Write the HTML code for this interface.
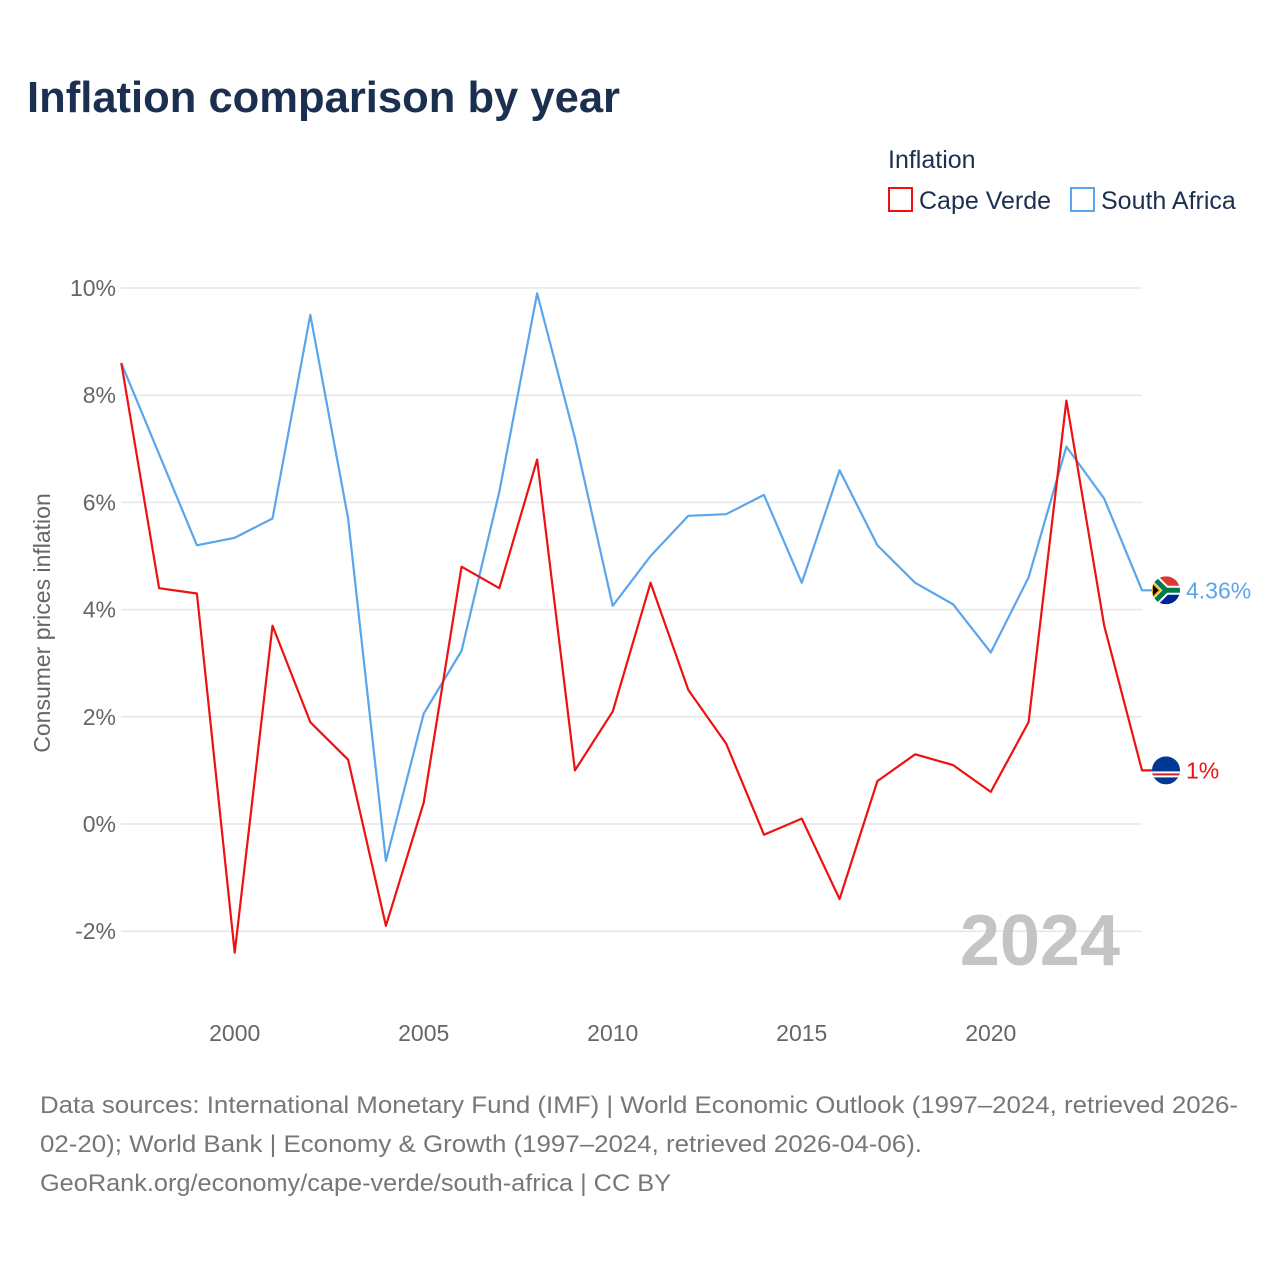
<!DOCTYPE html>
<html><head><meta charset="utf-8"><style>
body{margin:0;background:#fff;font-family:"Liberation Sans",sans-serif;}
#wrap{position:relative;width:1280px;height:1280px;overflow:hidden;}
</style></head><body>
<div id="wrap">
<svg id="chart" width="1280" height="1280">
<defs>
<clipPath id="cSA"><circle cx="1166" cy="590" r="14"/></clipPath>
<clipPath id="cCV"><circle cx="1166" cy="770" r="14"/></clipPath>
</defs>
<text x="27" y="112" font-size="44" font-weight="bold" fill="#1b3050" textLength="593" lengthAdjust="spacingAndGlyphs">Inflation comparison by year</text>
<text x="888" y="168" font-size="25" fill="#1b3050">Inflation</text>
<g>
<rect x="889" y="188" width="23" height="23" fill="none" stroke="#ee1111" stroke-width="2"/>
<text x="919" y="209" font-size="25" fill="#1b3050">Cape Verde</text></g>
<g>
<rect x="1071" y="188" width="23" height="23" fill="none" stroke="#5aa5ec" stroke-width="2"/>
<text x="1101" y="209" font-size="25" fill="#1b3050">South Africa</text></g>
<text transform="translate(50,623) rotate(-90)" text-anchor="middle" font-size="23" fill="#666">Consumer prices inflation</text>
<g id="grid"></g><g id="xt"></g>
<text x="1120" y="965" text-anchor="end" font-size="72" font-weight="bold" fill="#c4c4c4">2024</text>
<g id="series"></g>
<text x="40" y="1113" font-size="24" fill="#777" textLength="1198" lengthAdjust="spacingAndGlyphs">Data sources: International Monetary Fund (IMF) | World Economic Outlook (1997–2024, retrieved 2026-</text>
<text x="40" y="1152" font-size="24" fill="#777" textLength="882" lengthAdjust="spacingAndGlyphs">02-20); World Bank | Economy &amp; Growth (1997–2024, retrieved 2026-04-06).</text>
<text x="40" y="1191" font-size="24" fill="#777" textLength="631" lengthAdjust="spacingAndGlyphs">GeoRank.org/economy/cape-verde/south-africa | CC BY</text>
</svg></div>
<script>
const years=[1997,1998,1999,2000,2001,2002,2003,2004,2005,2006,2007,2008,2009,2010,2011,2012,2013,2014,2015,2016,2017,2018,2019,2020,2021,2022,2023,2024];
const capeVerde=[8.6,4.4,4.3,-2.4,3.7,1.9,1.2,-1.9,0.4,4.8,4.4,6.8,1.0,2.1,4.5,2.5,1.5,-0.2,0.1,-1.4,0.8,1.3,1.1,0.6,1.9,7.9,3.7,1.0];
const southAfrica=[8.6,6.9,5.2,5.34,5.7,9.5,5.7,-0.69,2.06,3.23,6.2,9.9,7.2,4.07,5.0,5.75,5.78,6.14,4.5,6.6,5.2,4.5,4.1,3.2,4.6,7.04,6.07,4.36];
const yTicks=[-2,0,2,4,6,8,10];
const xTicks=[2000,2005,2010,2015,2020];
const NS="http://www.w3.org/2000/svg";
const x=v=>121.3+(v-1997)*(1142-121.3)/27;
const y=v=>824-v*53.6;
function mk(tag,attrs,parent){const e=document.createElementNS(NS,tag);for(const k in attrs)e.setAttribute(k,attrs[k]);parent.appendChild(e);return e;}
const grid=document.getElementById('grid');
yTicks.forEach(t=>{
 const l=mk('line',{x1:121,x2:1142,y1:y(t),y2:y(t),stroke:'#e6e6e6','stroke-width':1.5},grid);
 
 
 const tx=mk('text',{x:116,y:y(t)+8,'text-anchor':'end','font-size':23,fill:'#666'},grid);
 tx.textContent=t+'%';
 
 
});
const xt=document.getElementById('xt');
xTicks.forEach(t=>{
 const tx=mk('text',{x:x(t),y:1041,'text-anchor':'middle','font-size':23,fill:'#666'},xt);
 tx.textContent=t;
 
 
});
const sg=document.getElementById('series');
function draw(vals,color,name,label,flagId){
 const pts=vals.map((v,i)=>x(years[i])+','+y(v)).join(' ');
 const last=vals[vals.length-1];
 const cy=y(last);
 const p=mk('polyline',{points:pts+' '+(x(2024)+10)+','+cy,fill:'none',stroke:color,'stroke-width':2.2,'stroke-linejoin':'round'},sg);
 
 
 document.getElementById(flagId).firstElementChild.setAttribute('cy',cy);
 const g=mk('g',{'clip-path':'url(#'+flagId+')'},sg);
 
 
 if(name==='south-africa'){
  mk('rect',{x:1152,y:cy-14,width:28,height:14,fill:'#de3831'},g);
  mk('rect',{x:1152,y:cy,width:28,height:14,fill:'#002395'},g);
  mk('path',{d:`M1152 ${cy-14} L1166 ${cy} L1152 ${cy+14} M1166 ${cy} L1180 ${cy}`,stroke:'#fff','stroke-width':9,fill:'none'},g);
  mk('path',{d:`M1152 ${cy-14} L1166 ${cy} L1152 ${cy+14} M1166 ${cy} L1180 ${cy}`,stroke:'#007a4d','stroke-width':5,fill:'none'},g);
  mk('path',{d:`M1152 ${cy-8} L1160 ${cy} L1152 ${cy+8} Z`,fill:'#000',stroke:'#ffb612','stroke-width':2},g);
 } else {
  mk('rect',{x:1152,y:cy-14,width:28,height:28,fill:'#003893'},g);
  mk('rect',{x:1152,y:cy+1,width:28,height:6,fill:'#fff'},g);
  mk('rect',{x:1152,y:cy+3,width:28,height:2,fill:'#cf2027'},g);
 }
 const t=mk('text',{x:1186,y:cy+8,'font-size':23,fill:color},sg);
 t.textContent=label;
 
 
}
draw(southAfrica,'#5aa5ec','south-africa',southAfrica[southAfrica.length-1]+'%','cSA');
draw(capeVerde,'#ee1111','cape-verde',capeVerde[capeVerde.length-1]+'%','cCV');
</script>
</body></html>
